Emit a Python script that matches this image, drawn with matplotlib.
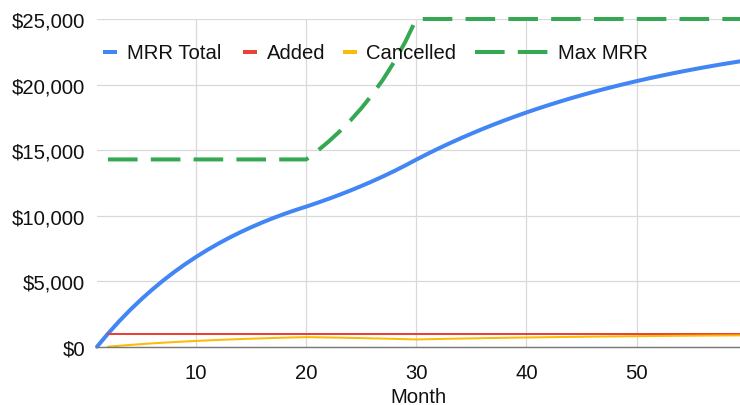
import numpy as np
import matplotlib.pyplot as plt
from matplotlib.lines import Line2D
from matplotlib.ticker import FuncFormatter

plt.rcParams["font.family"] = ["Liberation Sans", "DejaVu Sans"]

# Monthly MRR model, months 1..60
months = list(range(1, 61))

mrr_total = [
    0, 1000, 1930, 2795, 3599, 4347, 5043, 5690, 6292, 6851,
    7372, 7856, 8306, 8724, 9114, 9476, 9812, 10126, 10417, 10688,
    10972, 11270, 11582, 11910, 12255, 12618, 13000, 13402, 13826, 14273,
    14702, 15114, 15509, 15889, 16253, 16603, 16939, 17262, 17571, 17868,
    18154, 18427, 18690, 18943, 19185, 19418, 19641, 19855, 20061, 20259,
    20448, 20630, 20805, 20973, 21134, 21289, 21437, 21580, 21716, 21848,
]

added = [None] + [1000] * 59

cancelled = [
    None, 0, 70, 135, 196, 252, 304, 353, 398, 440,
    480, 516, 550, 581, 611, 638, 663, 687, 709, 729,
    716, 702, 688, 672, 655, 637, 618, 598, 576, 553,
    571, 588, 605, 620, 636, 650, 664, 678, 690, 703,
    715, 726, 737, 748, 758, 767, 777, 786, 794, 802,
    810, 818, 825, 832, 839, 845, 851, 857, 863, 869,
]

max_mrr = (
    [None] + [14286] * 19
    + [14925, 15625, 16393, 17241, 18182, 19231, 20408, 21739, 23256, 25000]
    + [25000] * 30
)

series = [
    ("MRR Total", mrr_total, "#4285F4", 4.0, "-"),
    ("Added", added, "#EA4335", 2.0, "-"),
    ("Cancelled", cancelled, "#FBBC04", 2.0, "-"),
    ("Max MRR", max_mrr, "#34A853", 4.0, (0, (7.4, 3.3))),
]

W, H = 740, 406
fig = plt.figure(figsize=(W / 100, H / 100), dpi=100)
ax = fig.add_axes([97 / W, (H - 347.7) / H, 643 / W, 327.7 / H])


def to_arr(vals):
    return np.array([np.nan if v is None else v for v in vals], dtype=float)


px = 100 / 72  # pixels per point
for name, vals, color, lw_px, ls in series:
    ax.plot(months, to_arr(vals), color=color, lw=lw_px / px, linestyle=ls,
            solid_capstyle="round", dash_capstyle="butt", clip_on=False,
            zorder=3)

ax.set_xlim(1, 59.4)
ax.set_ylim(0, 25000)
ax.set_xticks([10, 20, 30, 40, 50])
ax.set_yticks([0, 5000, 10000, 15000, 20000, 25000])
ax.yaxis.set_major_formatter(FuncFormatter(lambda v, _: f"${v:,.0f}"))
ax.tick_params(length=0, labelsize=14.6, colors="#111111")
ax.tick_params(axis="x", pad=12)
ax.tick_params(axis="y", pad=8.5)
ax.grid(True, color="#d9d9d9", lw=0.9)
ax.set_axisbelow(True)
for side in ("left", "right", "top"):
    ax.spines[side].set_visible(False)
ax.spines["bottom"].set_color("#777777")
ax.spines["bottom"].set_linewidth(1.0)
ax.spines["bottom"].set_zorder(4)
ax.set_xlabel("Month", fontsize=14.6, color="#111111", labelpad=3)

# legend row across the top of the plot
leg_y = (H - 53.3) / H
entries = [
    (102.7, 116.7, 126.7),
    (242.7, 256.7, 266.7),
    (342.7, 356.7, 366.0),
    (475.0, 548.0, 557.7),
]
for (name, vals, color, lw_px, ls), (x0, x1, tx) in zip(series, entries):
    fig.add_artist(Line2D([x0 / W, x1 / W], [leg_y, leg_y], color=color,
                          lw=4.0 / px, linestyle=ls, solid_capstyle="butt",
                          dash_capstyle="butt"))
    fig.text(tx / W, leg_y, name, fontsize=14.6, color="#111111",
             va="center", ha="left")

fig.savefig("out.png", dpi=100)
